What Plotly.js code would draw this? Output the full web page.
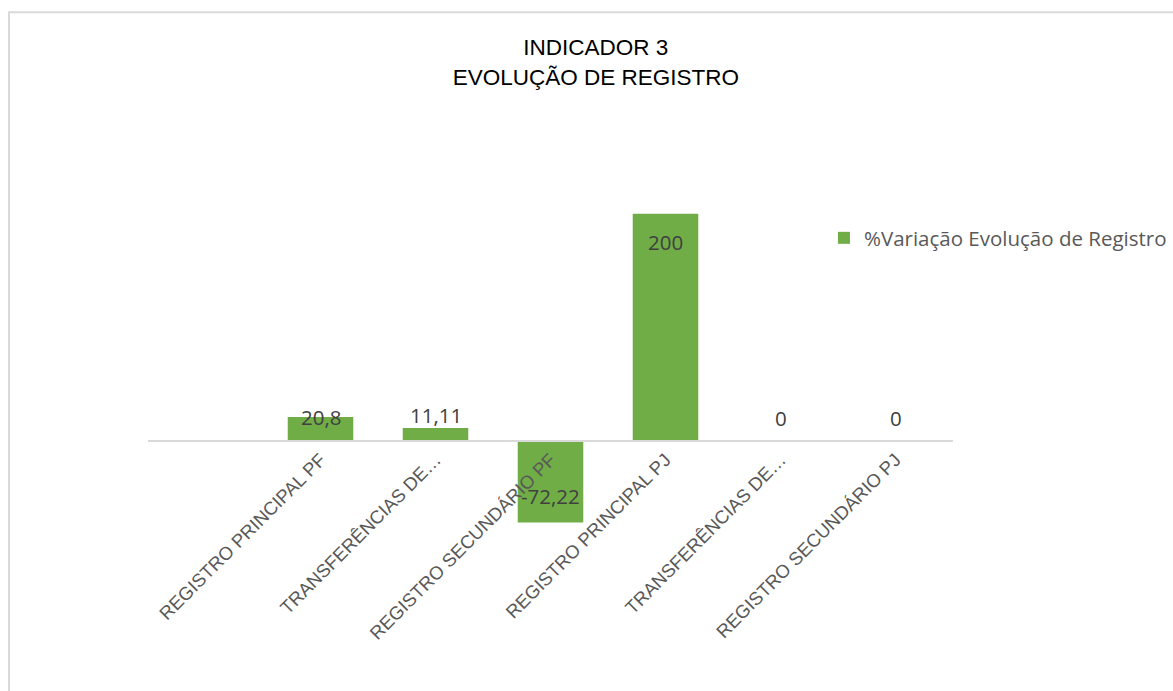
<!DOCTYPE html>
<html>
<head>
<meta charset="utf-8">
<script src="https://cdn.plot.ly/plotly-3.0.1.min.js"></script>
<style>html,body{margin:0;padding:0;background:#fff;}#chart{width:1173px;height:691px;}</style>
</head>
<body>
<div id="chart"></div>
<script>
const categories = ["REGISTRO PRINCIPAL PF", "TRANSFERÊNCIAS DE…", "REGISTRO SECUNDÁRIO PF", "REGISTRO PRINCIPAL PJ", "TRANSFERÊNCIAS DE…", "REGISTRO SECUNDÁRIO PJ"];
const categoryIds = ["c1", "c2", "c3", "c4", "c5", "c6"];
const values = [20.8, 11.11, -72.22, 200, 0, 0];
const valueLabels = ["20,8", "11,11", "-72,22", "200", "0", "0"];
const seriesName = "%Variação Evolução de Registro";

// label offsets (px) relative to bar end, as in the reference
const labelShift = [0, 13, 26, -28, 23, 23];

const trace = {
  type: "bar",
  x: categoryIds,
  y: values,
  name: seriesName,
  marker: {color: "#70AD47"},
  width: 0.57,
  hoverinfo: "x+y"
};

const labelFont = {family: "Open Sans, sans-serif", size: 20.5, color: "#404040"};
const annotations = values.map((v, i) => ({
  x: categoryIds[i], y: v, xref: "x", yref: "y",
  text: valueLabels[i], showarrow: false,
  xanchor: "center", yanchor: "middle",
  yshift: labelShift[i],
  font: labelFont
}));

const layout = {
  width: 1173, height: 691,
  margin: {l: 148, r: 220, t: 157, b: 136.5, autoexpand: false},
  paper_bgcolor: "#fff", plot_bgcolor: "rgba(0,0,0,0)",
  title: {
    text: "INDICADOR 3<br>EVOLUÇÃO DE REGISTRO",
    font: {family: "Liberation Sans, Arial, sans-serif", size: 22.5, color: "#000"},
    x: 0.508, xref: "container", xanchor: "center",
    y: 0.92, yref: "container", yanchor: "middle"
  },
  showlegend: true,
  legend: {
    x: 0.8397, y: 0.796, xanchor: "left", yanchor: "middle",
    font: {family: "Open Sans, sans-serif", size: 20.5, color: "#595959"},
    bgcolor: "rgba(0,0,0,0)", itemwidth: 30
  },
  annotations: annotations,
  xaxis: {
    type: "category",
    range: [-1.5, 5.5],
    tickmode: "array", tickvals: categoryIds, ticktext: categories,
    tickangle: -45,
    anchor: "free", position: 0.2855,
    showline: true, linecolor: "#d9d9d9", linewidth: 2,
    ticks: "", showgrid: false, zeroline: false,
    tickfont: {family: "Liberation Sans, Arial, sans-serif", size: 18.5, color: "#595959"},
    automargin: false,
    fixedrange: true
  },
  yaxis: {
    range: [-100, 250],
    showticklabels: false, showgrid: false, zeroline: false, showline: false, ticks: "",
    automargin: false,
    fixedrange: true
  },
  shapes: [{
    type: "rect", xref: "paper", yref: "paper",
    x0: -0.1727, x1: 1.4, y0: -0.5, y1: 1.3648,
    line: {color: "#d9d9d9", width: 2}, fillcolor: "rgba(0,0,0,0)", layer: "below"
  }]
};

Plotly.newPlot("chart", [trace], layout, {displayModeBar: false, staticPlot: true});
</script>
</body>
</html>
